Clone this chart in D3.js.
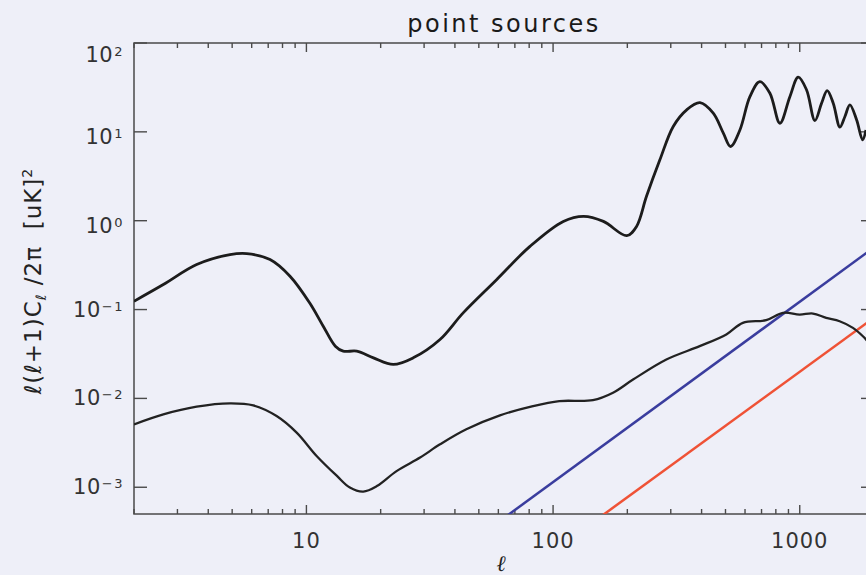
<!DOCTYPE html>
<html><head><meta charset="utf-8">
<script src="https://cdn.jsdelivr.net/npm/d3@7"></script>
<style>html,body{margin:0;padding:0;background:#eeeff8;overflow:hidden} svg{display:block}</style>
</head><body><div id="chart"></div>
<script>
// ---- data ----
const upperEll = [2.00,2.63,3.59,4.90,5.73,7.12,8.58,10.3,11.7,13.1,14.1,16.0,18.7,22.5,27.1,34.8,43.2,59.0,80.6,110,133,160,199,218,239,271,307,348,394,446,490,524,572,628,689,757,831,912,986,1066,1152,1226,1292,1367,1455,1525,1597,1701,1798,1855];
const upperVal = [0.124,0.191,0.321,0.415,0.426,0.365,0.237,0.119,0.0649,0.0387,0.0340,0.0340,0.0286,0.0241,0.0286,0.0460,0.0918,0.217,0.514,0.982,1.12,0.982,0.678,0.863,1.87,4.84,11.5,17.7,21.3,16.2,9.67,6.84,10.5,24.9,36.7,27.2,12.5,24.9,41.2,29.6,13.4,21.0,29.1,21.0,11.3,14.9,20.1,13.6,8.13,10.5];
const lowerEll = [2.00,2.63,3.59,4.90,6.09,7.57,9.13,11.0,13.3,15.0,17.0,19.3,23.2,28.9,34.8,44.5,60.9,82.9,106,145,175,211,288,393,504,588,731,855,999,1131,1280,1451,1643,1803,1855,2000];
const lowerVal = [0.00510,0.00661,0.00807,0.00879,0.00834,0.00633,0.00412,0.00225,0.00134,0.000993,0.000895,0.00103,0.00152,0.00216,0.00304,0.00449,0.00644,0.00819,0.00933,0.00957,0.0116,0.0163,0.0274,0.0387,0.0524,0.0709,0.0759,0.0918,0.0879,0.0902,0.0807,0.0739,0.0622,0.0501,0.0460,0.036];
const blueEll = [50, 2000];
const blueVal = [2.8e-4, 0.50];
const redEll = [100, 2000];
const redVal = [1.9e-4, 0.081];
const xTickLabels = ["10","100","1000"];
const xTickValues = [10,100,1000];
const yTickExps = [-3,-2,-1,0,1,2];
const titleText = "point sources";

// ---- layout ----
const W = 866, H = 575;
const L = 134, R = 874, T = 43, B = 514;
const x = d3.scaleLog().domain([2, 2000]).range([L, R]);
const y = d3.scaleLog().domain([5e-4, 100]).range([B, T]);

const svg = d3.select("#chart").append("svg").attr("width", W).attr("height", H);
svg.append("rect").attr("width", W).attr("height", H).attr("fill", "#eeeff8");
svg.append("defs").append("clipPath").attr("id", "clip")
  .append("rect").attr("x", L).attr("y", T).attr("width", R - L).attr("height", B - T);

const axisColor = "#4a4a4a";
const font = "'DejaVu Sans', sans-serif";

// frame
svg.append("rect").attr("x", L).attr("y", T).attr("width", R - L).attr("height", B - T)
  .attr("fill", "none").attr("stroke", axisColor).attr("stroke-width", 1.5);

// x ticks (top & bottom), major + minor from the log scale
const isPow10 = t => Math.abs(Math.log10(t) - Math.round(Math.log10(t))) < 1e-9;
x.ticks().forEach(t => {
  const len = isPow10(t) ? 9 : 5;
  const xx = x(t);
  svg.append("line").attr("x1", xx).attr("x2", xx).attr("y1", B).attr("y2", B - len)
    .attr("stroke", axisColor).attr("stroke-width", 1.4);
  svg.append("line").attr("x1", xx).attr("x2", xx).attr("y1", T).attr("y2", T + len)
    .attr("stroke", axisColor).attr("stroke-width", 1.4);
});
xTickValues.forEach((v, i) => {
  svg.append("text").attr("x", x(v)).attr("y", 548).attr("text-anchor", "middle")
    .attr("font-family", font).attr("font-size", 21).attr("letter-spacing", 1)
    .attr("fill", "#333").text(xTickLabels[i]);
});

// y ticks (left & right) and labels
yTickExps.forEach(e => {
  const yy = y(Math.pow(10, e));
  svg.append("line").attr("x1", L).attr("x2", L + 13).attr("y1", yy).attr("y2", yy)
    .attr("stroke", axisColor).attr("stroke-width", 1.4);
  svg.append("line").attr("x1", R).attr("x2", R - 13).attr("y1", yy).attr("y2", yy)
    .attr("stroke", axisColor).attr("stroke-width", 1.4);
  let base = yy + (e < 0 ? 7 : 12);
  base = Math.max(base, 62);
  const t = svg.append("text").attr("x", 124).attr("y", base).attr("text-anchor", "end")
    .attr("font-family", font).attr("font-size", 21).attr("letter-spacing", 0.5).attr("fill", "#333");
  t.append("tspan").text("10");
  t.append("tspan").attr("dy", -6).attr("dx", 1).attr("font-size", 13).attr("letter-spacing", 1.5)
    .text(e < 0 ? "\u2212" + Math.abs(e) : String(e));
});

// curves
const line = d3.line().x(d => x(d[0])).y(d => y(d[1])).curve(d3.curveCatmullRom.alpha(0.5));
const straight = d3.line().x(d => x(d[0])).y(d => y(d[1]));
const g = svg.append("g").attr("clip-path", "url(#clip)");
g.append("path").datum(blueEll.map((l, i) => [l, blueVal[i]])).attr("d", straight)
  .attr("fill", "none").attr("stroke", "#3a3d9e").attr("stroke-width", 2.5);
g.append("path").datum(redEll.map((l, i) => [l, redVal[i]])).attr("d", straight)
  .attr("fill", "none").attr("stroke", "#ef5236").attr("stroke-width", 2.5);
g.append("path").datum(lowerEll.map((l, i) => [l, lowerVal[i]])).attr("d", line)
  .attr("fill", "none").attr("stroke", "#222").attr("stroke-width", 2.3);
g.append("path").datum(upperEll.map((l, i) => [l, upperVal[i]])).attr("d", line)
  .attr("fill", "none").attr("stroke", "#1c1c1c").attr("stroke-width", 2.8);

// title
svg.append("text").attr("x", (L + R) / 2).attr("y", 32).attr("text-anchor", "middle")
  .attr("font-family", font).attr("font-size", 24).attr("letter-spacing", 2.5)
  .attr("fill", "#1a1a1a").text(titleText);

// x label
svg.append("text").attr("x", 501).attr("y", 571).attr("text-anchor", "middle")
  .attr("font-family", "'DejaVu Serif', serif").attr("font-style", "italic")
  .attr("font-size", 22).attr("fill", "#222").text("\u2113");

// y label
const yl = svg.append("text").attr("transform", "translate(41,281) rotate(-90)")
  .attr("text-anchor", "middle").attr("font-family", font).attr("font-size", 23)
  .attr("letter-spacing", 1).attr("fill", "#222").style("white-space", "pre");
yl.append("tspan").text("\u2113(\u2113+1)C");
yl.append("tspan").attr("font-size", 14).attr("dy", 5).text("\u2113");
yl.append("tspan").attr("dy", -5).text(" /2\u03c0  [uK]");
yl.append("tspan").attr("font-size", 14).attr("dy", -9).text("2");
</script>
</body></html>
